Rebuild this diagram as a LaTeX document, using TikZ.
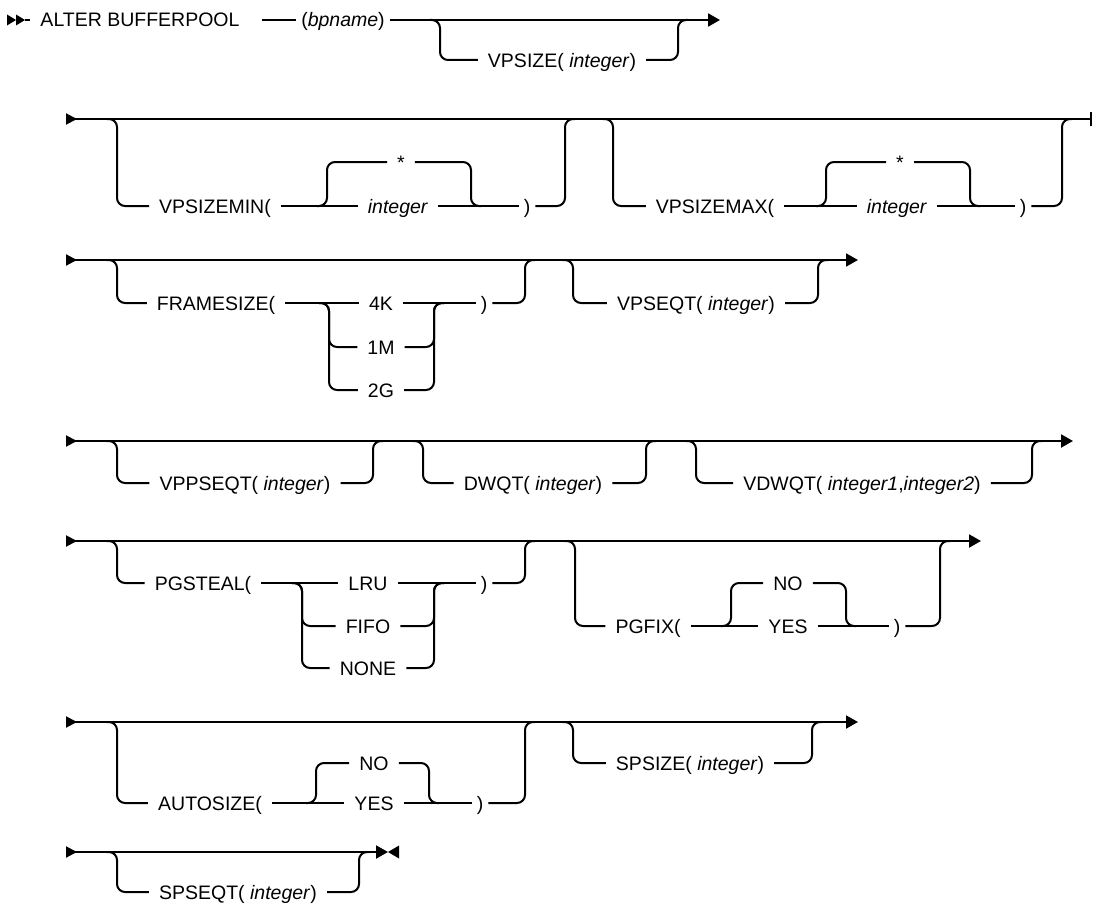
\documentclass[tikz,border=0pt]{standalone}
\usepackage{fontspec}
\setmainfont{Liberation Sans}
\usetikzlibrary{arrows.meta}
\tikzset{
  rail/.style={line width=2pt, rounded corners=8pt},
  kw/.style={inner xsep=10pt, inner ysep=0pt, text height=16pt, text depth=2pt,
    font=\fontsize{19.5}{22}\selectfont},
  par/.style={kw, inner xsep=5pt},
  onward/.style={-{Triangle[length=12pt,width=13pt]}},
  rowto/.style={{Triangle[reversed,length=11pt,width=11pt]}-{Triangle[length=12pt,width=13pt]}},
  rowbar/.style={{Triangle[reversed,length=11pt,width=11pt]}-{Bar[width=14pt]}}
}
\begin{document}
\begin{tikzpicture}[x=1pt,y=-1pt]
    \useasboundingbox (0,0) rectangle (1095,907);

    \coordinate (s1) at (25,20);
    \coordinate (a1) at (262,20);
    \coordinate (e1) at (720,20);
    \coordinate (b1l) at (440,20);
    \coordinate (b1r) at (678,20);
    \node[kw] (alter) at (140,20) {ALTER BUFFERPOOL};
    \node[par] (bp) at (343,20) {(\textit{bpname})};
    \node[kw] (vps) at (562,60) {VPSIZE( \textit{integer})};
    \fill (7,14.5) -- (16,20) -- (7,25.5) -- cycle;
    \fill (16,14.5) -- (25,20) -- (16,25.5) -- cycle;
    \draw[rail] (s1) -- (alter.west);
    \draw[rail] (a1) -- (bp.west);
    \draw[rail,onward] (bp.east) -- (e1);
    \draw[rail] ([xshift=-10pt]b1l) -- (b1l) |- (vps.west);
    \draw[rail] (vps.east) -| (b1r) -- ([xshift=10pt]b1r);

    \coordinate (s2) at (66,119);
    \coordinate (e2) at (1092,119);
    \coordinate (b2l) at (117,119);
    \coordinate (b2r) at (565,119);
    \coordinate (c2l) at (327,206);
    \coordinate (c2r) at (471,206);
    \coordinate (b2bl) at (613,119);
    \coordinate (b2br) at (1062,119);
    \coordinate (c2bl) at (826,206);
    \coordinate (c2br) at (970,206);
    \node[kw] (vmin) at (215,206) {VPSIZEMIN(};
    \node[kw] (st2) at (401,162) {*};
    \node[kw] (int2) at (398,206) {\textit{integer}};
    \node[par] (rp2) at (527,206) {)};
    \node[kw] (vmax) at (715,206) {VPSIZEMAX(};
    \node[kw] (st2b) at (900,162) {*};
    \node[kw] (int2b) at (897,206) {\textit{integer}};
    \node[par] (rp2b) at (1023,206) {)};
    \draw[rail,rowbar] (s2) -- (e2);
    \draw[rail] ([xshift=-10pt]b2l) -- (b2l) |- (vmin.west);
    \draw[rail] (vmin.east) -- (int2.west);
    \draw[rail] (int2.east) -- (rp2.west);
    \draw[rail] ([xshift=-10pt]c2l) -- (c2l) |- (st2.west);
    \draw[rail] (st2.east) -| (c2r) -- ([xshift=10pt]c2r);
    \draw[rail] (rp2.east) -| (b2r) -- ([xshift=10pt]b2r);
    \draw[rail] ([xshift=-10pt]b2bl) -- (b2bl) |- (vmax.west);
    \draw[rail] (vmax.east) -- (int2b.west);
    \draw[rail] (int2b.east) -- (rp2b.west);
    \draw[rail] ([xshift=-10pt]c2bl) -- (c2bl) |- (st2b.west);
    \draw[rail] (st2b.east) -| (c2br) -- ([xshift=10pt]c2br);
    \draw[rail] (rp2b.east) -| (b2br) -- ([xshift=10pt]b2br);

    \coordinate (s3) at (66,260);
    \coordinate (e3) at (858,260);
    \coordinate (b3l) at (117,260);
    \coordinate (b3r) at (525,260);
    \coordinate (c3l) at (329,303);
    \coordinate (c3r) at (434,303);
    \coordinate (b3bl) at (573,260);
    \coordinate (b3br) at (818,260);
    \node[kw] (fs) at (216,303) {FRAMESIZE(};
    \node[kw] (k4) at (381,303) {4K};
    \node[kw] (m1) at (381,347) {1M};
    \node[kw] (g2) at (381,390) {2G};
    \node[par] (rp3) at (484,303) {)};
    \node[kw] (vseq) at (696,303) {VPSEQT( \textit{integer})};
    \draw[rail,rowto] (s3) -- (e3);
    \draw[rail] ([xshift=-10pt]b3l) -- (b3l) |- (fs.west);
    \draw[rail] (fs.east) -- (k4.west);
    \draw[rail] (k4.east) -- (rp3.west);
    \draw[rail] ([xshift=-10pt]c3l) -- (c3l) |- (m1.west);
    \draw[rail] (m1.east) -| (c3r) -- ([xshift=10pt]c3r);
    \draw[rail] ([xshift=-10pt]c3l) -- (c3l) |- (g2.west);
    \draw[rail] (g2.east) -| (c3r) -- ([xshift=10pt]c3r);
    \draw[rail] (rp3.east) -| (b3r) -- ([xshift=10pt]b3r);
    \draw[rail] ([xshift=-10pt]b3bl) -- (b3bl) |- (vseq.west);
    \draw[rail] (vseq.east) -| (b3br) -- ([xshift=10pt]b3br);

    \coordinate (s4) at (66,441);
    \coordinate (e4) at (1073,441);
    \coordinate (b4l) at (117,441);
    \coordinate (b4r) at (373,441);
    \coordinate (b4bl) at (423,441);
    \coordinate (b4br) at (646,441);
    \coordinate (b4cl) at (696,441);
    \coordinate (b4cr) at (1032,441);
    \node[kw] (vpps) at (245,483) {VPPSEQT( \textit{integer})};
    \node[kw] (dwqt) at (533,483) {DWQT( \textit{integer})};
    \node[kw] (vdwqt) at (862,483) {VDWQT( \textit{integer1},\textit{integer2})};
    \draw[rail,rowto] (s4) -- (e4);
    \draw[rail] ([xshift=-10pt]b4l) -- (b4l) |- (vpps.west);
    \draw[rail] (vpps.east) -| (b4r) -- ([xshift=10pt]b4r);
    \draw[rail] ([xshift=-10pt]b4bl) -- (b4bl) |- (dwqt.west);
    \draw[rail] (dwqt.east) -| (b4br) -- ([xshift=10pt]b4br);
    \draw[rail] ([xshift=-10pt]b4cl) -- (b4cl) |- (vdwqt.west);
    \draw[rail] (vdwqt.east) -| (b4cr) -- ([xshift=10pt]b4cr);

    \coordinate (s5) at (66,541);
    \coordinate (e5) at (981,541);
    \coordinate (b5l) at (117,541);
    \coordinate (b5r) at (525,541);
    \coordinate (c5l) at (302,583);
    \coordinate (c5r) at (434,583);
    \coordinate (b5bl) at (575,541);
    \coordinate (b5br) at (940,541);
    \coordinate (c5bl) at (731,626);
    \coordinate (c5br) at (846,626);
    \node[kw] (pgst) at (203,583) {PGSTEAL(};
    \node[kw] (lru) at (368,583) {LRU};
    \node[kw] (fifo) at (368,626) {FIFO};
    \node[kw] (none) at (368,668) {NONE};
    \node[par] (rp5) at (484,583) {)};
    \node[kw] (pgfix) at (648,626) {PGFIX(};
    \node[kw] (no5) at (788,583) {NO};
    \node[kw] (yes5) at (788,626) {YES};
    \node[par] (rp5b) at (897,626) {)};
    \draw[rail,rowto] (s5) -- (e5);
    \draw[rail] ([xshift=-10pt]b5l) -- (b5l) |- (pgst.west);
    \draw[rail] (pgst.east) -- (lru.west);
    \draw[rail] (lru.east) -- (rp5.west);
    \draw[rail] ([xshift=-10pt]c5l) -- (c5l) |- (fifo.west);
    \draw[rail] (fifo.east) -| (c5r) -- ([xshift=10pt]c5r);
    \draw[rail] ([xshift=-10pt]c5l) -- (c5l) |- (none.west);
    \draw[rail] (none.east) -| (c5r) -- ([xshift=10pt]c5r);
    \draw[rail] (rp5.east) -| (b5r) -- ([xshift=10pt]b5r);
    \draw[rail] ([xshift=-10pt]b5bl) -- (b5bl) |- (pgfix.west);
    \draw[rail] (pgfix.east) -- (yes5.west);
    \draw[rail] (yes5.east) -- (rp5b.west);
    \draw[rail] ([xshift=-10pt]c5bl) -- (c5bl) |- (no5.west);
    \draw[rail] (no5.east) -| (c5br) -- ([xshift=10pt]c5br);
    \draw[rail] (rp5b.east) -| (b5br) -- ([xshift=10pt]b5br);

    \coordinate (s6) at (66,722);
    \coordinate (e6) at (858,722);
    \coordinate (b6l) at (117,722);
    \coordinate (b6r) at (525,722);
    \coordinate (c6l) at (316,803);
    \coordinate (c6r) at (429,803);
    \coordinate (b6bl) at (573,722);
    \coordinate (b6br) at (812,722);
    \node[kw] (auto) at (210,803) {AUTOSIZE(};
    \node[kw] (no6) at (374,763) {NO};
    \node[kw] (yes6) at (374,803) {YES};
    \node[par] (rp6) at (480,803) {)};
    \node[kw] (spsz) at (690,763) {SPSIZE( \textit{integer})};
    \draw[rail,rowto] (s6) -- (e6);
    \draw[rail] ([xshift=-10pt]b6l) -- (b6l) |- (auto.west);
    \draw[rail] (auto.east) -- (yes6.west);
    \draw[rail] (yes6.east) -- (rp6.west);
    \draw[rail] ([xshift=-10pt]c6l) -- (c6l) |- (no6.west);
    \draw[rail] (no6.east) -| (c6r) -- ([xshift=10pt]c6r);
    \draw[rail] (rp6.east) -| (b6r) -- ([xshift=10pt]b6r);
    \draw[rail] ([xshift=-10pt]b6bl) -- (b6bl) |- (spsz.west);
    \draw[rail] (spsz.east) -| (b6br) -- ([xshift=10pt]b6br);

    \coordinate (s7) at (66,852);
    \coordinate (e7) at (388,852);
    \coordinate (b7l) at (117,852);
    \coordinate (b7r) at (359,852);
    \node[kw] (spsq) at (238,892) {SPSEQT( \textit{integer})};
    \draw[rail,rowto] (s7) -- (e7);
    \fill (388,852) -- (399,845.5) -- (399,858.5) -- cycle;
    \draw[rail] ([xshift=-10pt]b7l) -- (b7l) |- (spsq.west);
    \draw[rail] (spsq.east) -| (b7r) -- ([xshift=10pt]b7r);
\end{tikzpicture}
\end{document}
